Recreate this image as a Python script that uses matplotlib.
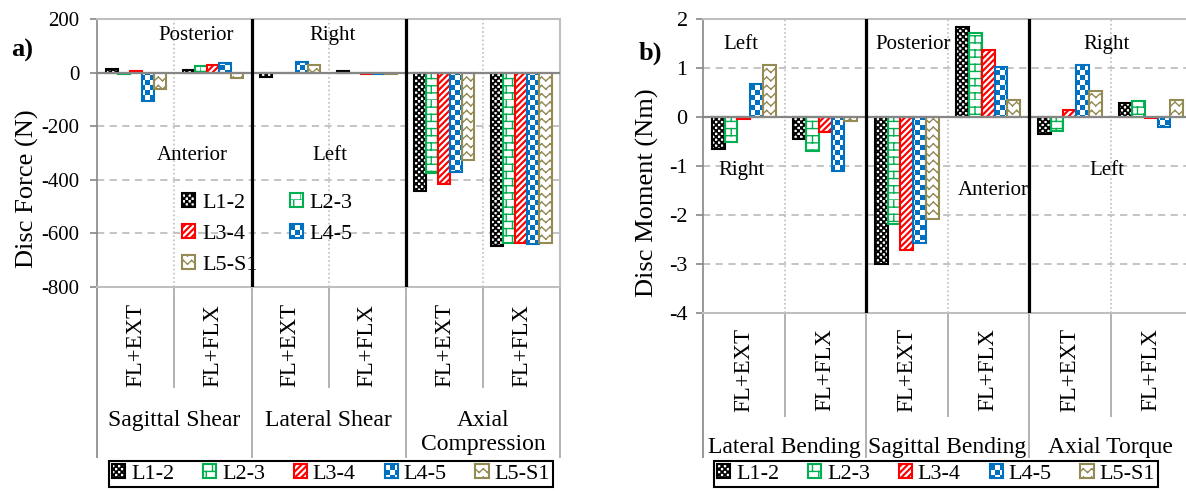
import warnings
import numpy as np
import matplotlib
matplotlib.use("Agg")
import matplotlib.pyplot as plt
from matplotlib import hatch as mhatch
from matplotlib.path import Path
from matplotlib.patches import Patch
from matplotlib.legend_handler import HandlerTuple

warnings.filterwarnings("ignore")

plt.rcParams['font.family'] = ['Liberation Serif', 'DejaVu Serif']
plt.rcParams['axes.unicode_minus'] = False
plt.rcParams['hatch.linewidth'] = 1.0

# ---------------------------------------------------------------- data
levels = ["L1-2", "L2-3", "L3-4", "L4-5", "L5-S1"]
conditions = ["FL+EXT", "FL+FLX"]
force_categories = ["Sagittal Shear", "Lateral Shear", "Axial\nCompression"]
moment_categories = ["Lateral Bending", "Sagittal Bending", "Axial Torque"]

# Disc forces (N), order: 3 categories x 2 conditions
force_L12 = [15, 9, -15, 7, -442, -648]
force_L23 = [-4, 23, -3, -1, -375, -637]
force_L34 = [5, 28, -2, -4, -416, -637]
force_L45 = [-105, 36, 38, -6, -370, -641]
force_L5S1 = [-61, -20, 27, -6, -325, -635]

# Disc moments (Nm), order: 3 categories x 2 conditions
moment_L12 = [-0.65, -0.45, -2.99, 1.84, -0.35, 0.29]
moment_L23 = [-0.52, -0.69, -2.19, 1.72, -0.28, 0.33]
moment_L34 = [-0.05, -0.31, -2.72, 1.36, 0.15, -0.03]
moment_L45 = [0.67, -1.10, -2.58, 1.03, 1.06, -0.21]
moment_L5S1 = [1.06, -0.08, -2.09, 0.34, 0.54, 0.35]

force_ticks = [200, 0, -200, -400, -600, -800]
moment_ticks = [2, 1, 0, -1, -2, -3, -4]

force_values = [force_L12, force_L23, force_L34, force_L45, force_L5S1]
moment_values = [moment_L12, moment_L23, moment_L34, moment_L45, moment_L5S1]


# ---------------------------------------------------------- fill patterns
def _seg_path(segments):
    verts, codes = [], []
    for a, b in segments:
        verts += [a, b]
        codes += [Path.MOVETO, Path.LINETO]
    return np.array(verts, float), np.array(codes, Path.code_type)


def _polys(polys):
    verts, codes = [], []
    for poly in polys:
        verts += list(poly) + [poly[0]]
        codes += [Path.MOVETO] + [Path.LINETO] * (len(poly) - 1) + [Path.CLOSEPOLY]
    return np.array(verts, float), np.array(codes, Path.code_type)


def _checker(n, shrink):
    s = 1.0 / n
    polys = []
    for i in range(n):
        for j in range(n):
            if (i + j) % 2 == 0:
                x0, y0 = i * s + shrink, j * s + shrink
                x1, y1 = (i + 1) * s - shrink, (j + 1) * s - shrink
                polys.append([(x0, y0), (x1, y0), (x1, y1), (x0, y1)])
    return _polys(polys)


def _stripes(n, w):
    polys = []
    for k in range(-n - 1, n + 1):
        x0 = k / n
        polys.append([(x0, 0), (x0 + w, 0), (x0 + w + 1, 1), (x0 + 1, 1)])
    return _polys(polys)


def _brick(rows, cols):
    h, w = 1.0 / rows, 1.0 / cols
    segs = []
    for r in range(rows):
        y = r * h
        segs.append(((0, y), (1, y)))
        off = 0.5 * w if r % 2 else 0.0
        for c in range(cols):
            x = c * w + off
            segs.append(((x, y), (x, y + h)))
    return _seg_path(segs)


def _chevron(rows, cols, amp):
    h, w = 1.0 / rows, 1.0 / cols
    segs = []
    for r in range(rows):
        y = r * h + 0.3 * h
        for c in range(cols):
            x = c * w
            segs.append(((x, y + amp * h), (x + w / 2, y)))
            segs.append(((x + w / 2, y), (x + w, y + amp * h)))
    return _seg_path(segs)


class _CustomHatch(mhatch.HatchPatternBase):
    key = None
    builder = None

    def __init__(self, hatch, density):
        if hatch and self.key in hatch:
            self._v, self._c = type(self).builder()
        else:
            self._v = np.empty((0, 2))
            self._c = np.empty(0, Path.code_type)
        self.num_vertices = len(self._v)

    def set_vertices_and_codes(self, vertices, codes):
        vertices[:] = self._v
        codes[:] = self._c


class FineChecker(_CustomHatch):
    key = 'k'
    builder = staticmethod(lambda: _checker(34, 0.004))


class LargeChecker(_CustomHatch):
    key = 'c'
    builder = staticmethod(lambda: _checker(20, 0.007))


class Brick(_CustomHatch):
    key = 'b'
    builder = staticmethod(lambda: _brick(14, 8))


class Chevron(_CustomHatch):
    key = 'z'
    builder = staticmethod(lambda: _chevron(12, 12, 0.45))


class WideStripes(_CustomHatch):
    key = 'd'
    builder = staticmethod(lambda: _stripes(16, 0.012))


mhatch._hatch_types.extend([FineChecker, LargeChecker, Brick, Chevron,
                            WideStripes])

styles = {
    "L1-2": dict(edge="black", face="white", hatch="k", hcol="black"),
    "L2-3": dict(edge="#00B050", face="white", hatch="b", hcol="#00B050"),
    "L3-4": dict(edge="#FF0000", face="#FF0000", hatch="d", hcol="white"),
    "L4-5": dict(edge="#0070C0", face="white", hatch="c", hcol="#0070C0"),
    "L5-S1": dict(edge="#948A54", face="white", hatch="z", hcol="#948A54"),
}

GRID = "#BFBFBF"
AXC = "#868686"
BW = 0.156
EDGE_LW = 1.5


def legend_handles():
    hs = []
    for lvl in levels:
        st = styles[lvl]
        hs.append((Patch(facecolor=st['face'], edgecolor=st['hcol'],
                         hatch=st['hatch'], linewidth=0),
                   Patch(fill=False, edgecolor=st['edge'], linewidth=EDGE_LW)))
    return hs


def draw_panel(ax, values, categories, ylim, ticks, grid_vals,
               cond_y, cat_y, cat_va, inner_bottom, outer_bottom,
               tick_size, tick_pad):
    n = len(values[0])
    x = np.arange(n)
    for j, (lvl, vals) in enumerate(zip(levels, values)):
        st = styles[lvl]
        xp = x + (j - 2) * BW
        ax.bar(xp, vals, BW, color=st['face'], edgecolor=st['hcol'],
               hatch=st['hatch'], linewidth=0, zorder=3)
        ax.bar(xp, vals, BW, fill=False, edgecolor=st['edge'],
               linewidth=EDGE_LW, zorder=4)

    ax.set_xlim(-0.5, n - 0.5)
    ax.set_ylim(*ylim)
    ax.set_yticks(ticks)
    ax.set_yticklabels([f"{t:g}" for t in ticks])
    ax.set_xticks([])
    ax.tick_params(axis='y', direction='out', length=5, width=1.2,
                   color=AXC, labelsize=tick_size, pad=tick_pad)

    for g in grid_vals:
        ax.axhline(g, color=GRID, lw=1.3, dashes=(4, 3), zorder=1)
    ax.axhline(0, color=AXC, lw=1.6, zorder=5)

    # separators between the two conditions and between categories
    for b in range(1, n):
        if b % 2:
            ax.axvline(b - 0.5, color=GRID, lw=1.2, ls=(0, (1, 1.5)), zorder=1)
        else:
            ax.axvline(b - 0.5, color="black", lw=2.3, zorder=6)

    for side in ('top', 'right', 'bottom'):
        ax.spines[side].set_color(GRID)
        ax.spines[side].set_linewidth(1.5)
    ax.spines['left'].set_color(AXC)
    ax.spines['left'].set_linewidth(1.2)

    # category table under the plot
    tr = ax.get_xaxis_transform()
    for b in range(0, n + 1):
        bottom = outer_bottom if b % 2 == 0 else inner_bottom
        color = AXC if b == 0 else "#A6A6A6"
        ax.plot([b - 0.5, b - 0.5], [0, bottom], color=color, lw=1.2,
                transform=tr, clip_on=False, solid_capstyle='butt')
    for i in range(n):
        ax.text(i, cond_y, conditions[i % 2], rotation=90, ha='center',
                va='center', fontsize=16.5, transform=tr)
    for k, cat in enumerate(categories):
        ax.text(2 * k + 0.5, cat_y, cat, ha='center', va=cat_va,
                fontsize=17, transform=tr, linespacing=1.2)


fig = plt.figure(figsize=(11.86, 4.91), dpi=100)
W, H = 1186.0, 491.0

# ---------------------------------------------------------------- panel a
ax1 = fig.add_axes([97.3 / W, (H - 287) / H, 462.7 / W, 268 / H])
draw_panel(ax1, force_values, force_categories, (-800, 200), force_ticks,
           [-200, -400, -600], cond_y=-0.218, cat_y=-0.46, cat_va='top',
           inner_bottom=-0.377, outer_bottom=-0.638, tick_size=15, tick_pad=8)

for txt, xf, yf in [("Posterior", 0.213, 0.940), ("Right", 0.509, 0.940),
                    ("Anterior", 0.205, 0.4925), ("Left", 0.503, 0.4925)]:
    ax1.text(xf, yf, txt, ha='center', va='center', fontsize=15,
             transform=ax1.transAxes, zorder=7)

order = [0, 2, 4, 1, 3]
hs = legend_handles()
inner_leg = ax1.legend([hs[i] for i in order], [levels[i] for i in order],
                       handler_map={tuple: HandlerTuple(ndivide=1)}, ncol=2,
                       loc='upper left', bbox_to_anchor=(0.183, 0.352),
                       frameon=False, fontsize=16, handlelength=0.6,
                       handleheight=0.6, handletextpad=0.3, labelspacing=0.5,
                       columnspacing=1.45, borderpad=0, borderaxespad=0)
inner_leg.set_zorder(8)

fig.text(22 / W, 1 - 50 / H, "a)", fontsize=19, fontweight='bold',
         ha='center', va='center')
fig.text(27 / W, 1 - 189 / H, "Disc Force (N)", rotation=90, fontsize=19,
         ha='center', va='center')

# ---------------------------------------------------------------- panel b
ax2 = fig.add_axes([703 / W, (H - 313) / H, 489 / W, 294 / H])
draw_panel(ax2, moment_values, moment_categories, (-4, 2), moment_ticks,
           [1, -1, -2, -3], cond_y=-0.194, cat_y=-0.456, cat_va='center',
           inner_bottom=-0.354, outer_bottom=-0.493, tick_size=16, tick_pad=6)

for txt, xf, yf in [("Left", 0.078, 0.912), ("Posterior", 0.429, 0.912),
                    ("Right", 0.826, 0.912), ("Right", 0.078, 0.486),
                    ("Anterior", 0.593, 0.415), ("Left", 0.826, 0.486)]:
    ax2.text(xf, yf, txt, ha='center', va='center', fontsize=15,
             transform=ax2.transAxes, zorder=7)

fig.text(650 / W, 1 - 53 / H, "b)", fontsize=19, fontweight='bold',
         ha='center', va='center')
fig.text(647 / W, 1 - 193 / H, "Disc Moment (Nm)", rotation=90, fontsize=19,
         ha='center', va='center')

# ---------------------------------------------------------- bottom legends
for cx in (331 / W, 936 / W):
    leg = fig.legend(legend_handles(), levels,
                     handler_map={tuple: HandlerTuple(ndivide=1)}, ncol=5,
                     loc='center', bbox_to_anchor=(cx, 1 - 474 / H),
                     fontsize=16, handlelength=0.6, handleheight=0.6,
                     handletextpad=0.25, columnspacing=1.3, borderpad=0.15,
                     borderaxespad=0, fancybox=False, framealpha=1)
    leg.get_frame().set_edgecolor('black')
    leg.get_frame().set_linewidth(1.5)

fig.savefig("out.png", dpi=100)
